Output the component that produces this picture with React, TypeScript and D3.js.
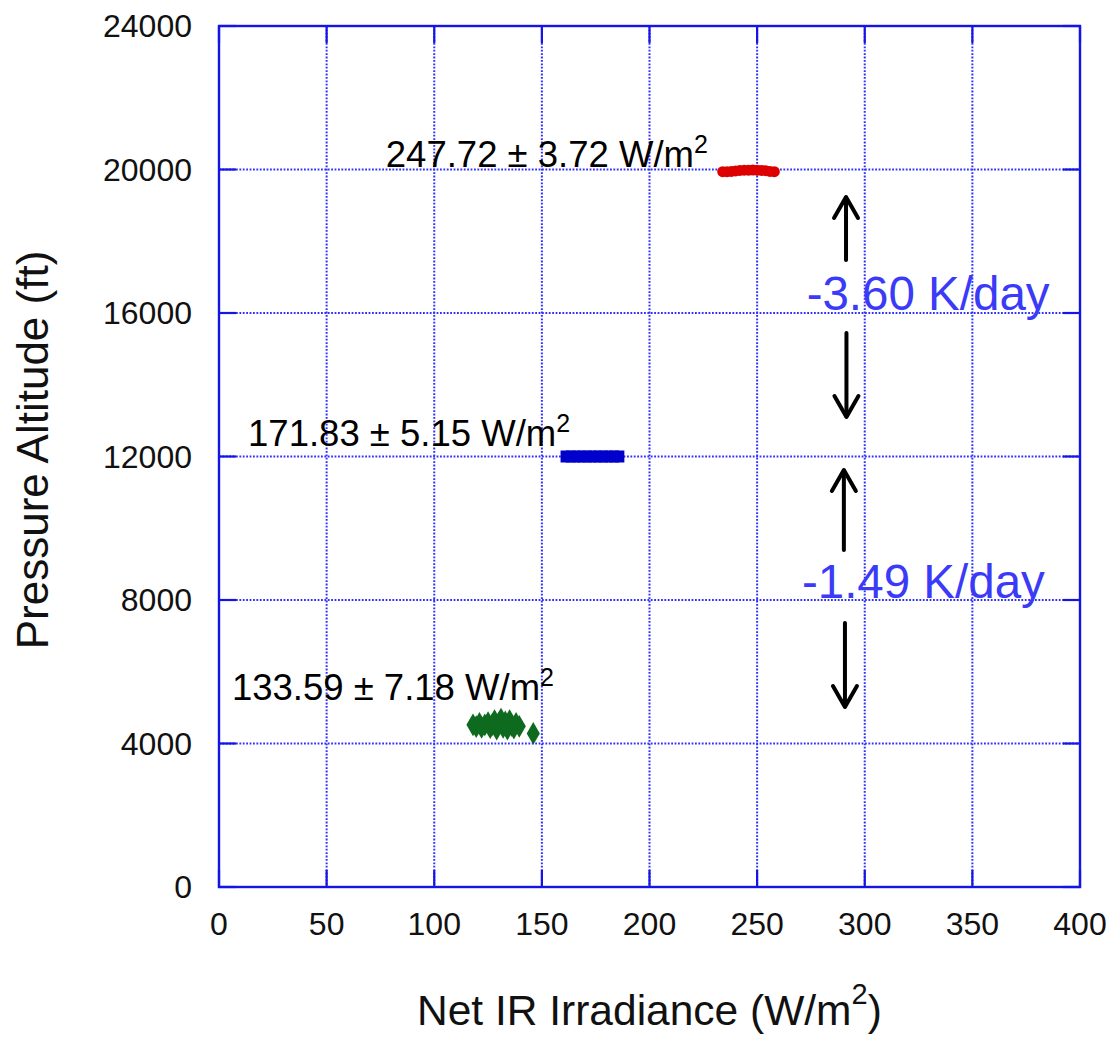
import { useEffect, useRef } from "react";
import * as d3 from "d3";

const xTickValues = [0, 50, 100, 150, 200, 250, 300, 350, 400];
const yTickValues = [0, 4000, 8000, 12000, 16000, 20000, 24000];

// 20000 ft leg
const redPoints = [
  [234, 19940], [236, 19940], [238, 19945], [240, 19960], [242, 19975], [244, 19980],
  [246, 19980], [248, 19985], [250, 19980], [252, 19975], [254, 19965], [256, 19945], [258, 19940],
];

// 12000 ft leg
const bluePoints = [
  [161, 12000], [163.5, 12000], [166, 12000], [168.5, 12000], [171, 12000], [173.5, 12000],
  [176, 12000], [178.5, 12000], [181, 12000], [183.5, 12000], [186, 12000],
];

// ~4500 ft leg
const greenPoints = [
  [118, 4520], [119.5, 4470], [121, 4560], [122, 4450], [123.5, 4520], [125, 4580],
  [126, 4440], [127, 4530], [128, 4640], [129, 4400], [130, 4560], [131, 4680],
  [132, 4450], [133, 4600], [134, 4400], [135, 4640], [136, 4500], [137, 4430],
  [138, 4560], [139.5, 4480], [146, 4280],
];

const labels = [
  { x: 77.5, y: 20070, text: "247.72 ± 3.72 W/m", sup: "2" },
  { x: 13.5, y: 12280, text: "171.83 ± 5.15 W/m", sup: "2" },
  { x: 6, y: 5220, text: "133.59 ± 7.18 W/m", sup: "2" },
];

const rates = [
  { x: 273, y: 16084, text: "-3.60 K/day" },
  { x: 270.8, y: 8056, text: "-1.49 K/day" },
];

const arrows = [
  { x: 291.3, from: 17478, to: 19233 },
  { x: 291.5, from: 15443, to: 13101 },
  { x: 290.3, from: 9394, to: 11624 },
  { x: 290.8, from: 7359, to: 5017 },
];

export default function App() {
  const ref = useRef<SVGSVGElement>(null);

  useEffect(() => {
    const margin = { top: 26, left: 219 };
    const width = 861;
    const height = 861;
    const font = "'Liberation Sans', Arial, sans-serif";
    const frameColor = "#1414e6";

    const root = d3.select(ref.current);
    root.selectAll("*").remove();

    const svg = root.append("g")
      .attr("transform", `translate(${margin.left},${margin.top})`);

    const x = d3.scaleLinear().domain([0, 400]).range([0, width]);
    const y = d3.scaleLinear().domain([0, 24000]).range([height, 0]);

    // dotted grid
    svg.append("g")
      .selectAll("line")
      .data(xTickValues.slice(1, -1))
      .join("line")
      .attr("x1", d => x(d)).attr("x2", d => x(d))
      .attr("y1", 0).attr("y2", height)
      .attr("stroke", "#3030ff")
      .attr("stroke-width", 2)
      .attr("stroke-dasharray", "1.8,1.6");

    svg.append("g")
      .selectAll("line")
      .data(yTickValues.slice(1, -1))
      .join("line")
      .attr("x1", 0).attr("x2", width)
      .attr("y1", d => y(d)).attr("y2", d => y(d))
      .attr("stroke", "#3030ff")
      .attr("stroke-width", 2)
      .attr("stroke-dasharray", "1.8,1.6");

    // inward ticks on all four sides
    const tickLen = 17;
    const ticks = svg.append("g").attr("stroke", frameColor).attr("stroke-width", 2.2);
    xTickValues.forEach(d => {
      ticks.append("line").attr("x1", x(d)).attr("x2", x(d)).attr("y1", height).attr("y2", height - tickLen);
      ticks.append("line").attr("x1", x(d)).attr("x2", x(d)).attr("y1", 0).attr("y2", tickLen);
    });
    yTickValues.forEach(d => {
      ticks.append("line").attr("x1", 0).attr("x2", tickLen).attr("y1", y(d)).attr("y2", y(d));
      ticks.append("line").attr("x1", width).attr("x2", width - tickLen).attr("y1", y(d)).attr("y2", y(d));
    });

    svg.append("rect")
      .attr("width", width)
      .attr("height", height)
      .attr("fill", "none")
      .attr("stroke", frameColor)
      .attr("stroke-width", 2.4);

    // tick labels
    svg.append("g")
      .selectAll("text")
      .data(xTickValues)
      .join("text")
      .attr("x", d => x(d))
      .attr("y", height + 48)
      .attr("text-anchor", "middle")
      .attr("font-family", font)
      .attr("font-size", 32)
      .attr("fill", "#111")
      .text(d => d);

    svg.append("g")
      .selectAll("text")
      .data(yTickValues)
      .join("text")
      .attr("x", -27)
      .attr("y", d => y(d) + 11)
      .attr("text-anchor", "end")
      .attr("font-family", font)
      .attr("font-size", 32)
      .attr("fill", "#111")
      .text(d => d);

    // axis titles
    const xTitle = svg.append("text")
      .attr("x", 417 - margin.left)
      .attr("y", 999)
      .attr("font-family", font)
      .attr("font-size", 42.5)
      .attr("fill", "#111");
    xTitle.append("tspan").text("Net IR Irradiance (W/m");
    xTitle.append("tspan").attr("font-size", 29).attr("dy", -21).text("2");
    xTitle.append("tspan").attr("dy", 21).text(")");

    svg.append("text")
      .attr("transform", `translate(${48 - margin.left},${450 - margin.top}) rotate(-90)`)
      .attr("text-anchor", "middle")
      .attr("font-family", font)
      .attr("font-size", 44)
      .attr("fill", "#111")
      .text("Pressure Altitude (ft)");

    // data clusters
    svg.append("g")
      .selectAll("circle")
      .data(redPoints)
      .join("circle")
      .attr("cx", d => x(d[0]))
      .attr("cy", d => y(d[1]))
      .attr("r", 5.5)
      .attr("fill", "#dd0000");

    svg.append("g")
      .selectAll("rect")
      .data(bluePoints)
      .join("rect")
      .attr("x", d => x(d[0]) - 5)
      .attr("y", d => y(d[1]) - 6)
      .attr("width", 10)
      .attr("height", 12)
      .attr("fill", "#0000cc");

    const diamond = d3.symbol().type(d3.symbolDiamond).size(150);
    svg.append("g")
      .selectAll("path")
      .data(greenPoints)
      .join("path")
      .attr("transform", d => `translate(${x(d[0])},${y(d[1])})`)
      .attr("d", diamond)
      .attr("fill", "#0d6a1e");

    // value labels
    labels.forEach(l => {
      const t = svg.append("text")
        .attr("x", x(l.x))
        .attr("y", y(l.y))
        .attr("font-family", font)
        .attr("font-size", 36.5)
        .attr("fill", "#000");
      t.append("tspan").text(l.text);
      t.append("tspan").attr("font-size", 25).attr("dy", -14).text(l.sup);
    });

    // cooling rates
    svg.append("g")
      .selectAll("text")
      .data(rates)
      .join("text")
      .attr("x", d => x(d.x))
      .attr("y", d => y(d.y))
      .attr("font-family", font)
      .attr("font-size", 47.5)
      .attr("fill", "#3b3bf7")
      .text(d => d.text);

    // arrows
    arrows.forEach(a => {
      const ax = x(a.x);
      const y0 = y(a.from);
      const y1 = y(a.to);
      const dir = y1 < y0 ? 1 : -1;
      const g = svg.append("g")
        .attr("stroke", "#000")
        .attr("stroke-width", 4)
        .attr("fill", "none")
        .attr("stroke-linecap", "round")
        .attr("stroke-linejoin", "round");
      g.append("line").attr("x1", ax).attr("x2", ax).attr("y1", y0).attr("y2", y1 + dir * 1);
      g.append("path")
        .attr("d", d3.line()([[ax - 12, y1 + dir * 21], [ax, y1], [ax + 12, y1 + dir * 21]]));
    });
  }, []);

  return (
    <svg
      ref={ref}
      width={1106}
      height={1037}
      style={{ position: "absolute", left: 0, top: 0, background: "#fff" }}
    />
  );
}
